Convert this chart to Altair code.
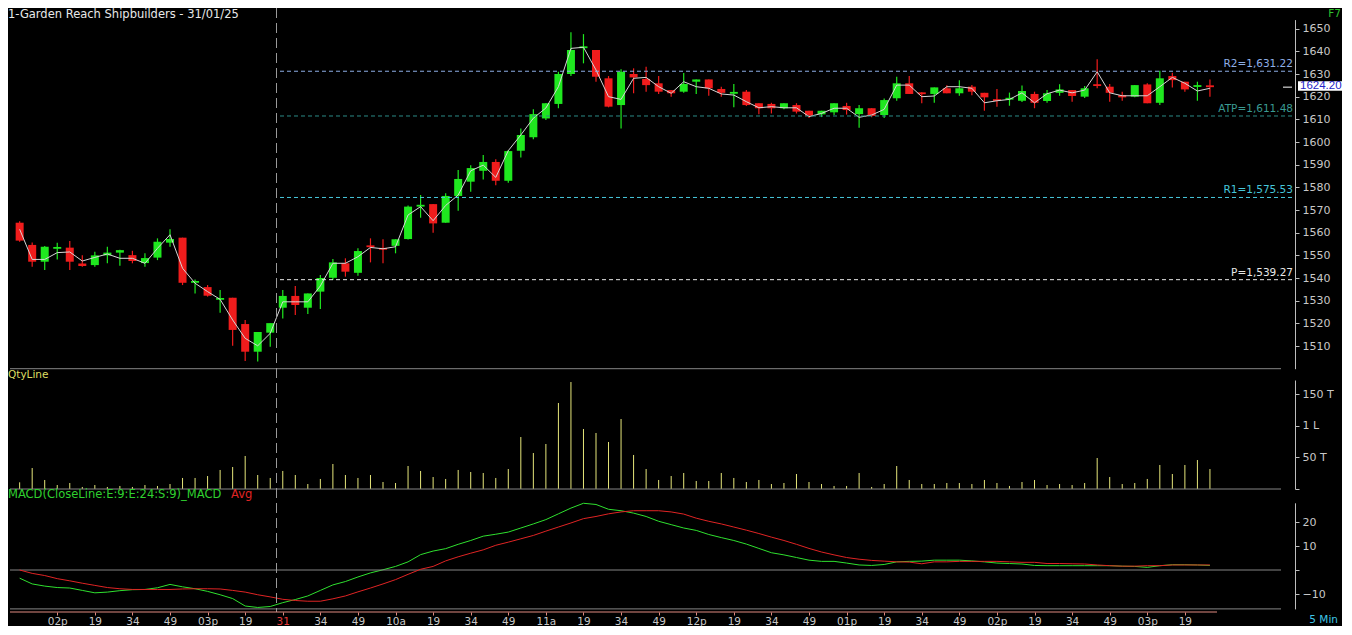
import altair as alt
import pandas as pd

# ---------------- data ----------------
TITLE = "1-Garden Reach Shipbuilders - 31/01/25"
MACD_TITLE = "MACD(CloseLine:E:9:E:24:S:9)_MACD"
AVG_TITLE = "Avg"
QTY_TITLE = "QtyLine"
F_KEY = "F7"
INTERVAL = "5 Min"

open_ = [1564.4,1554.6,1547.2,1552.9,1553.4,1546.4,1545.7,1550.0,1551.2,1550.1,
         1546.6,1549.0,1555.6,1557.8,1537.9,1536.0,1530.4,1531.3,1519.7,1507.5,
         1515.9,1526.9,1532.1,1526.9,1534.0,1540.1,1546.5,1542.3,1554.4,1553.3,
         1554.2,1557.2,1571.5,1572.6,1564.4,1576.2,1582.5,1587.3,1591.2,1582.9,
         1596.2,1602.1,1610.4,1616.8,1630.0,1641.4,1640.6,1628.1,1616.3,1630.0,
         1627.8,1625.9,1622.9,1622.2,1626.6,1627.6,1623.4,1621.3,1622.2,1617.1,
         1616.8,1614.9,1616.3,1613.8,1612.2,1613.1,1615.9,1612.3,1614.9,1611.9,
         1619.3,1625.9,1621.9,1621.2,1623.7,1621.5,1624.4,1621.7,1618.9,1618.7,
         1618.2,1621.2,1618.1,1621.7,1622.9,1620.0,1625.5,1624.4,1620.7,1620.0,
         1625.4,1617.3,1629.1,1626.6,1624.3,1625.0]
high = [1565.0,1555.7,1554.1,1555.6,1556.3,1550.1,1551.6,1553.8,1552.5,1552.0,
        1550.9,1557.5,1561.5,1557.8,1539.4,1536.9,1534.7,1531.3,1521.5,1516.2,
        1520.1,1534.7,1536.5,1533.2,1541.3,1548.4,1548.7,1553.1,1557.5,1557.1,
        1557.1,1572.0,1576.6,1572.6,1577.4,1587.6,1589.8,1594.3,1592.4,1596.5,
        1606.0,1614.4,1617.1,1631.0,1648.4,1647.6,1640.6,1629.1,1632.1,1632.5,
        1633.2,1629.1,1622.9,1630.4,1627.6,1627.6,1624.4,1625.6,1622.9,1617.1,
        1617.3,1617.1,1617.1,1613.8,1613.8,1617.1,1617.3,1616.3,1614.9,1619.2,
        1628.8,1629.1,1621.9,1624.1,1625.0,1627.3,1625.1,1621.7,1623.4,1621.8,
        1624.9,1622.2,1622.9,1625.5,1622.9,1624.7,1636.5,1625.6,1622.2,1625.1,
        1625.9,1631.4,1630.6,1626.6,1626.6,1627.6]
low = [1556.0,1545.0,1543.5,1548.2,1543.5,1545.0,1545.0,1546.5,1545.4,1546.5,
       1545.0,1547.9,1553.8,1536.9,1533.2,1531.8,1524.7,1510.1,1503.4,1503.2,
       1509.7,1522.2,1523.7,1524.1,1526.3,1539.1,1540.6,1541.0,1546.9,1546.5,
       1550.9,1557.0,1566.6,1560.0,1564.4,1569.7,1578.1,1583.5,1580.9,1582.0,
       1593.2,1601.2,1609.7,1614.9,1629.1,1634.7,1626.6,1615.3,1606.0,1621.5,
       1622.2,1621.2,1620.0,1621.7,1621.2,1620.4,1620.0,1615.3,1615.9,1612.2,
       1612.6,1614.4,1612.6,1610.6,1611.0,1611.9,1612.1,1606.3,1610.9,1610.6,
       1618.2,1621.2,1617.1,1617.3,1621.5,1620.4,1620.6,1613.8,1615.6,1616.0,
       1617.6,1614.9,1617.3,1620.4,1617.8,1619.4,1623.7,1617.8,1618.2,1619.7,
       1617.1,1616.3,1624.1,1622.2,1618.2,1620.0]
close = [1556.5,1547.2,1553.8,1553.7,1547.2,1545.3,1550.0,1551.2,1552.3,1547.5,
         1548.8,1556.0,1557.2,1537.9,1538.7,1532.2,1531.2,1517.1,1507.5,1516.2,
         1520.1,1532.1,1528.1,1533.2,1540.0,1546.9,1542.8,1551.9,1553.6,1552.5,
         1557.1,1571.5,1572.3,1564.1,1576.2,1583.7,1588.5,1591.2,1582.9,1596.0,
         1603.1,1612.3,1617.1,1630.0,1640.6,1642.2,1628.8,1615.6,1631.0,1628.5,
         1625.1,1622.2,1621.5,1625.6,1627.6,1623.7,1621.7,1622.1,1616.3,1614.9,
         1614.9,1617.1,1613.4,1611.6,1613.8,1617.1,1614.1,1614.9,1611.5,1618.5,
         1625.9,1621.2,1621.1,1624.1,1621.5,1623.7,1622.2,1619.7,1618.1,1619.5,
         1622.5,1617.3,1621.5,1623.2,1620.3,1623.7,1624.7,1621.7,1619.7,1625.1,
         1617.1,1628.1,1627.3,1623.2,1625.1,1624.2]
close_line = [1561.5,1548.2,1548.2,1551.2,1551.5,1547.5,1549.1,1550.6,1548.7,1548.7,
              1546.5,1553.1,1559.1,1544.3,1537.7,1534.0,1530.6,1521.5,1513.4,1510.1,
              1515.6,1529.5,1529.5,1529.5,1536.5,1546.5,1546.5,1549.4,1553.5,1552.9,
              1553.8,1567.8,1571.5,1565.3,1572.0,1576.6,1587.3,1589.8,1584.4,1596.2,
              1603.1,1610.5,1615.0,1624.4,1641.3,1641.8,1631.8,1620.0,1618.8,1628.1,
              1628.5,1624.4,1621.5,1626.6,1624.4,1623.7,1621.2,1620.7,1617.8,1615.1,
              1615.6,1615.1,1615.1,1611.2,1612.6,1614.9,1614.9,1610.9,1611.9,1614.4,
              1625.1,1625.1,1620.0,1620.3,1624.4,1624.4,1623.7,1617.3,1618.2,1618.8,
              1621.7,1617.3,1621.3,1622.9,1621.7,1622.9,1631.0,1621.7,1620.4,1620.4,
              1620.4,1624.4,1628.5,1625.9,1622.5,1623.7]
# volume in thousands (T)
qty = [10.6,33.3,14.3,6.3,9.5,3.2,6.3,3.2,4.8,3.2,
       6.3,4.8,7.9,17.5,17.5,20.6,30.2,34.9,52.4,22.2,
       17.5,28.6,22.2,7.9,15.9,39.7,22.2,17.5,22.2,11.1,
       9.5,36.5,28.6,19.0,15.9,30.2,27.0,25.4,17.5,31.7,
       82.5,57.1,71.4,136.5,169.8,95.2,88.9,74.6,111.1,54.0,
       31.7,14.3,20.6,25.4,12.7,12.7,25.4,17.5,11.1,14.3,
       7.9,9.5,23.8,11.1,7.9,4.8,4.8,25.4,3.2,7.9,
       36.5,14.3,7.9,7.9,9.5,9.5,7.9,14.3,9.5,4.8,
       11.1,14.3,6.3,7.9,6.3,9.5,49.2,19.0,7.9,9.5,
       15.9,38.1,23.8,38.1,46.0,31.7]
macd = [-3.4,-5.8,-6.7,-7.3,-7.5,-8.5,-9.5,-9.2,-8.6,-8.2,
        -8.1,-7.4,-6.0,-7.0,-7.8,-8.9,-10.3,-11.9,-15.0,-15.6,
        -15.2,-13.6,-12.3,-10.8,-8.5,-6.2,-4.8,-2.9,-1.2,0.1,
        1.5,3.4,6.4,7.9,8.9,10.7,12.3,14.1,14.9,15.8,
        17.5,19.2,21.0,23.4,25.8,27.8,27.3,25.3,24.7,23.7,
        22.3,20.3,18.9,17.5,16.5,14.8,13.5,12.3,10.8,9.0,
        7.2,6.3,5.2,4.1,3.6,3.6,2.9,2.1,1.9,2.3,
        3.4,3.6,3.7,4.1,4.1,4.1,3.8,3.4,2.9,2.7,
        2.5,1.9,1.8,1.8,1.8,1.8,1.8,1.8,1.6,1.5,
        1.1,1.8,2.2,2.2,2.1,1.9]
macd_avg = [0.0,-1.4,-2.3,-3.6,-4.5,-5.5,-6.4,-7.3,-7.8,-8.1,
            -8.1,-8.1,-8.1,-7.9,-7.8,-7.8,-7.9,-8.5,-9.2,-10.3,
            -11.2,-12.2,-12.7,-13.0,-13.0,-12.0,-10.8,-9.1,-7.5,-5.8,
            -4.0,-1.8,0.3,1.5,3.8,5.5,7.0,8.4,10.3,11.6,
            13.0,14.4,16.2,17.9,19.6,21.4,22.3,23.4,24.2,24.7,
            24.7,24.7,24.2,23.3,21.6,20.3,19.2,17.9,16.6,15.2,
            13.7,12.3,10.7,9.0,7.5,6.3,5.2,4.5,4.0,3.7,
            3.4,3.3,2.6,3.4,3.4,3.6,3.6,3.6,3.6,3.4,
            3.2,3.2,2.7,2.7,2.6,2.5,2.1,1.8,1.6,1.6,
            1.8,1.8,2.1,2.1,2.1,2.1]

tick_idx = list(range(3, 94, 3))
tick_labels = ['02p','19','34','49','03p','19','31','34','49','10a','19','34','49',
               '11a','19','34','49','12p','19','34','49','01p','19','34','49',
               '02p','19','34','49','03p','19']
day_break = 20.5          # between last candle of 30/01 and first of 31/01
day_start = 21

piv_names = ["R2", "ATP", "R1", "P"]
piv_values = [1631.22, 1611.48, 1575.53, 1539.27]
piv_labels = ["R2=1,631.22", "ATP=1,611.48", "R1=1,575.53", "P=1,539.27"]
last_price = 1624.20

price_ticks = list(range(1510, 1651, 10))
vol_ticks = [0, 50, 100, 150]
macd_ticks = [-10, 0, 10, 20]

# ---------------- tables ----------------
n = len(open_)
df = pd.DataFrame({"i": list(range(n)), "open": open_, "high": high, "low": low,
                   "close": close, "line": close_line, "vol": qty,
                   "macd": macd, "avg": macd_avg})
df["dir"] = ["up" if c >= o else "down" for o, c in zip(open_, close)]
df["zero"] = 0.0
piv = pd.DataFrame({"name": piv_names, "value": piv_values, "label": piv_labels})
lp = pd.DataFrame({"p": [last_price], "label": [f"{last_price:.2f}"]})
one = pd.DataFrame({"k": [0]})

# ---------------- styling ----------------
FONT = "DejaVu Sans"
GREEN = "#1fe81f"
RED = "#f01c1c"
GREY_TXT = "#c8c8c8"
W, H = 1287, 604

xs = alt.Scale(domain=[-0.531, 101.39], nice=False, zero=False)
ps = alt.Scale(domain=[1500, 1654], range=[360.7, 11.6], nice=False, zero=False)
vs = alt.Scale(domain=[0, 173], range=[481, 372], nice=False, zero=False)
ms = alt.Scale(domain=[-16.2, 28], range=[600.9, 494.8], nice=False, zero=False)

axis_common = dict(title=None, grid=False, labelFont=FONT, labelFontSize=11,
                   labelColor=GREY_TXT, domainColor="#bdbdbd", tickColor="#bdbdbd",
                   tickSize=4, labelPadding=3, labelOverlap=False, labelFlush=False)
PRICE_AX = alt.Axis(orient="right", values=price_ticks, format="d", **axis_common)
vol_expr = ("datum.value == 0 ? '' : datum.value == 50 ? '50 T' : "
            "datum.value == 100 ? '1 L' : '150 T'")
VOL_AX = alt.Axis(orient="right", values=vol_ticks, labelExpr=vol_expr, **axis_common)
MACD_AX = alt.Axis(orient="right", values=macd_ticks,
                   labelExpr="datum.value == 0 ? '' : datum.label", **axis_common)
label_arr = "[" + ",".join(f"'{t}'" for t in tick_labels) + "]"
X_AX = alt.Axis(orient="bottom", values=tick_idx,
                labelExpr=f"{label_arr}[round((datum.value - 3) / 3)]",
                domain=False, tickColor="#e08a80", tickSize=3, labelPadding=1,
                labelColor={"condition": {"test": f"datum.value == {day_start}", "value": "#e23a3a"},
                            "value": GREY_TXT},
                labelFont=FONT, labelFontSize=10.5, grid=False, title=None,
                labelOverlap=False, labelFlush=False)

X = alt.X("i:Q", scale=xs, axis=X_AX)
col = alt.Color("dir:N", scale=alt.Scale(domain=["up", "down"], range=[GREEN, RED]), legend=None)


def PY(field):
    return alt.Y(field, scale=ps, axis=PRICE_AX)


base = alt.Chart(df)


def hline(value, y_enc_fn, x1=2, x2=1273, color="#858585"):
    d = pd.DataFrame({"v": [value]})
    return alt.Chart(d).mark_rule(color=color, strokeWidth=1).encode(
        y=y_enc_fn("v:Q"), x=alt.value(x1), x2=alt.value(x2))


# ---- price panel ----
wick = base.mark_rule(strokeWidth=1.2).encode(x=X, y=PY("low:Q"), y2="high:Q", color=col)
body = base.mark_bar(size=8).encode(x=X, y=PY("open:Q"), y2="close:Q", color=col)
cline = base.mark_line(color="#d6d6d6", strokeWidth=1).encode(x=X, y=PY("line:Q"))

piv_line_col = {"R2": "#8eaee6", "ATP": "#2b8a86", "R1": "#46c6da", "P": "#e8e8e8"}
piv_text_col = {"R2": "#8eaee6", "ATP": "#3a9a92", "R1": "#46c6da", "P": "#e8e8e8"}
piv_layers = []
for nm in piv_names:
    c = alt.Chart(piv).transform_filter(alt.datum.name == nm)
    piv_layers.append(c.mark_rule(color=piv_line_col[nm], strokeDash=[4, 3], strokeWidth=1).encode(
        y=PY("value:Q"), x=alt.value(272), x2=alt.value(1286)))
    piv_layers.append(c.mark_text(align="right", baseline="bottom", dy=-2, font=FONT,
                                  fontSize=10.5, color=piv_text_col[nm]).encode(
        y=PY("value:Q"), x=alt.value(1285), text="label:N"))

lp_tick = alt.Chart(lp).mark_rule(color="white", strokeWidth=1).encode(
    y=PY("p:Q"), x=alt.value(1275), x2=alt.value(1284))
lp_box = alt.Chart(lp).mark_rect(color="white", yOffset=-6, y2Offset=3.5).encode(
    y=PY("p:Q"), y2="p:Q", x=alt.value(1290), x2=alt.value(1334))
lp_text = alt.Chart(lp).mark_text(align="left", baseline="middle", font="Liberation Sans",
                                  fontSize=11.5, dy=-1.5, color="#2424c8").encode(
    y=PY("p:Q"), x=alt.value(1292), text="label:N")

price = alt.layer(wick, hline(1500, PY), body, cline, *piv_layers, lp_tick, lp_box, lp_text)


# ---- quantity panel ----
def VY(field):
    return alt.Y(field, scale=vs, axis=VOL_AX)


vbars = base.mark_rule(color="#e6e67a", strokeWidth=1).encode(x=X, y=VY("vol:Q"), y2="zero:Q")
volume = alt.layer(vbars, hline(0, VY))


# ---- MACD panel ----
def MY(field):
    return alt.Y(field, scale=ms, axis=MACD_AX)


m_line = base.mark_line(color="#2fe02f", strokeWidth=1).encode(x=X, y=MY("macd:Q"))
a_line = base.mark_line(color="#e02424", strokeWidth=1).encode(x=X, y=MY("avg:Q"))
macd_panel = alt.layer(m_line, hline(0, MY), hline(-16.2, MY), a_line)

# ---- annotations ----
sep = alt.Chart(pd.DataFrame({"i": [day_break]})).mark_rule(
    color="#9a9a9a", strokeDash=[10, 5], strokeWidth=1).encode(
    x=X, y=alt.value(0), y2=alt.value(H))
axis_line = alt.Chart(one).mark_rule(color="#e08a80", strokeWidth=1).encode(
    x=alt.value(2), x2=alt.value(1209), y=alt.value(H))


def label(s, x, y, color, align="left", baseline="middle", size=10.5):
    return alt.Chart(one).mark_text(align=align, baseline=baseline, font=FONT,
                                    fontSize=size, color=color).encode(
        x=alt.value(x), y=alt.value(y), text=alt.value(s))


annot = alt.layer(
    sep, axis_line,
    label(TITLE, 0, 1, "#e8e8e8", baseline="top", size=11.5),
    label(F_KEY, 1333, 1, "#2fc22f", align="right", baseline="top", size=10.5),
    label(QTY_TITLE, 0, 367, "#dede62"),
    label(MACD_TITLE, 0, 487, "#2fd02f", size=11.5),
    label(AVG_TITLE, 223, 487, "#e02424", size=11.5),
    label(INTERVAL, 1330, 617, "#3ec4e6", align="right", baseline="bottom"),
)

chart = alt.layer(price, volume, macd_panel, annot).resolve_scale(
    y="independent"
).properties(
    width=W, height=H, background="#000000",
    padding={"left": 0, "top": 0, "right": 47, "bottom": 14},
    autosize=alt.AutoSizeParams(type="none"),
).configure_view(stroke=None)

chart.save("out.html", embed_options={"renderer": "svg", "actions": False})
